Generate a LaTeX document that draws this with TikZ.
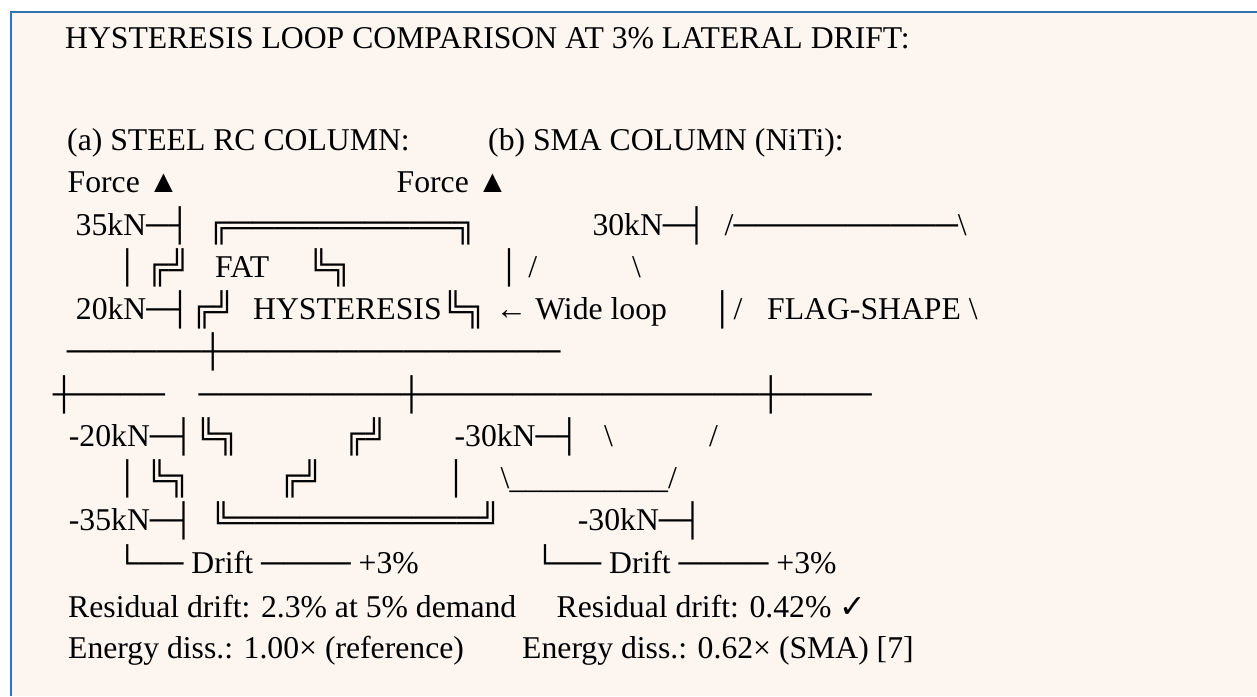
\documentclass[tikz,border=0pt]{standalone}
\usepackage{fontspec}
\setmainfont{Liberation Serif}
\newfontfamily\symfont{DejaVu Sans}
\definecolor{panelcream}{RGB}{253,246,240}
\definecolor{panelblue}{RGB}{46,116,181}
\newcommand\artfont{\fontsize{31.7}{42.3}\selectfont}

\begin{document}
\begin{tikzpicture}[x=1pt,y=-1pt,
    txt/.style={anchor=base west,inner sep=0pt,font=\artfont}]
\useasboundingbox (0,0) rectangle (1257,696);
% panel
\fill[white] (0,0) rectangle (1257,696);
\fill[panelcream] (11,12) rectangle (1257,696);
\draw[panelblue,line width=2pt] (11,696) -- (11,12) -- (1257,12);

% heading
\node[txt] (title) at (65,48) {HYSTERESIS LOOP COMPARISON AT 3\% LATERAL DRIFT:};
\node[txt] (capA) at (67,150) {(a) STEEL RC COLUMN:};
\node[txt] (capB) at (488,150) {(b) SMA COLUMN (NiTi):};
\node[txt] (forceA) at (67.5,192) {Force ▲};
\node[txt] (forceB) at (396.5,192) {Force ▲};

% steel loop, upper half
\node[txt] (steelMax) at (75.5,235) {35kN─┤};
\node[txt] (steelTop) at (207.4,235) {╔══════════╗};
\node[txt] (steelAxA) at (116,277) {│};
\node[txt] (steelUpA) at (145.9,277) {╔╝};
\node[txt] (fat) at (215,277) {FAT};
\node[txt] (steelDnA) at (307.2,277) {╚╗};
\node[txt] (steelYld) at (75.7,319) {20kN─┤};
\node[txt] (steelUpB) at (190.5,319) {╔╝};
\node[txt] (hyst) at (253,319) {HYSTERESIS╚╗};
\node[txt] (wide) at (495.5,319) {← Wide loop};

% SMA loop, upper half
\node[txt] (smaMax) at (592.3,235) {30kN─┤};
\node[txt] (smaTop) at (724.5,235) {/──────────\textbackslash};
\node[txt] (smaAxA) at (497.7,277) {│ /};
\node[txt] (smaRtA) at (632,277) {\textbackslash};
\node[txt] (smaAxB) at (711,319) {│/};
\node[txt] (flag) at (767,319) {FLAG-SHAPE \textbackslash};

% drift axes
\node[txt] (axisA) at (66.7,361.9) {──────┼───────────────};
\node[txt] (axisB) at (52.7,404.1) {┼────};
\node[txt] (axisC) at (198.3,404.1) {─────────┼───────────────┼────};

% lower halves
\node[txt] (steelMinA) at (68.7,446.4) {-20kN─┤};
\node[txt] (steelDnC) at (194.5,446.4) {╚╗};
\node[txt] (steelUpC) at (342.9,446.4) {╔╝};
\node[txt] (smaMinA) at (454.4,446.4) {-30kN─┤};
\node[txt] (smaLtB) at (604,446.4) {\textbackslash};
\node[txt] (smaRtB) at (709,446.4) {/};
\node[txt] (steelAxB) at (116,488.7) {│};
\node[txt] (steelDnD) at (145.5,488.7) {╚╗};
\node[txt] (steelUpD) at (278.5,488.7) {╔╝};
\node[txt] (smaAxC) at (444.7,488.7) {│};
\node[txt] (smaBot) at (500.5,488.7) {\textbackslash\_\_\_\_\_\_\_\_\_\_/};
\node[txt] (steelMinB) at (68.7,530.7) {-35kN─┤};
\node[txt] (steelBot) at (209.5,530.7) {╚═══════════╝};
\node[txt] (smaMinB) at (577.7,530.7) {-30kN─┤};
\node[txt] (driftA) at (116,573.3) {└── Drift ──── +3\%};
\node[txt] (driftB) at (533.7,573.3) {└── Drift ──── +3\%};

% summary
\node[txt] (resA) at (68,617) {Residual drift: 2.3\% at 5\% demand};
\node[txt] (resB) at (556.5,617) {Residual drift: 0.42\% {\symfont ✓}};
\node[txt] (engA) at (68,658) {Energy diss.: 1.00× (reference)};
\node[txt] (engB) at (522,658) {Energy diss.: 0.62× (SMA) [7]};
\end{tikzpicture}
\end{document}
